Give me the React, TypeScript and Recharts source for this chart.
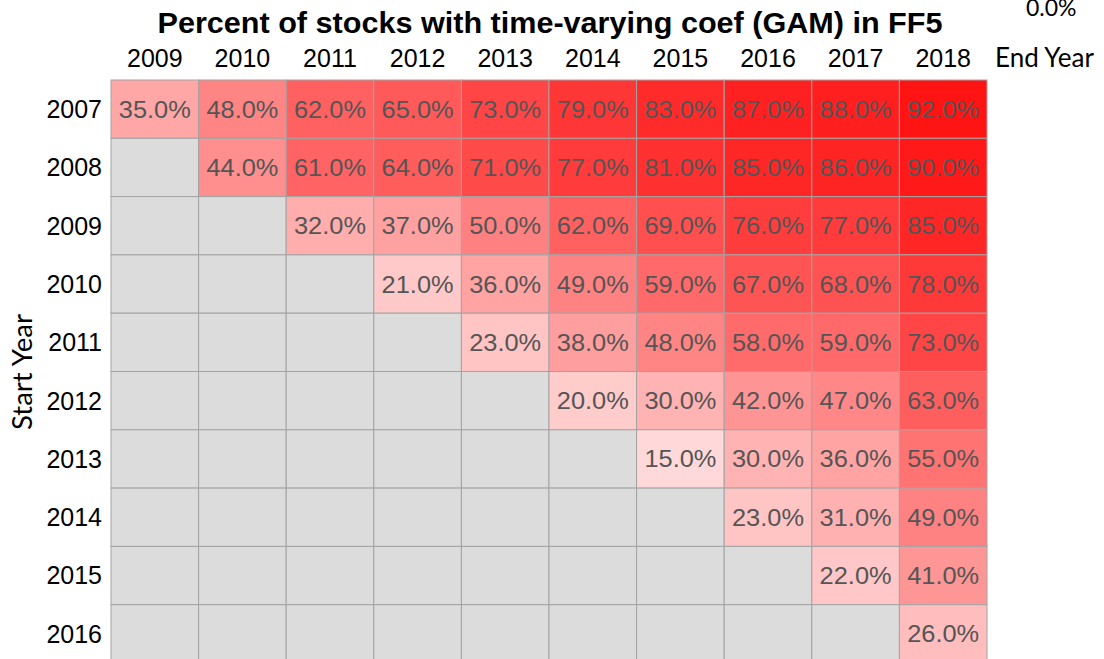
import { Scatter, ScatterChart, XAxis, YAxis } from "recharts";

const endYears = [2009, 2010, 2011, 2012, 2013, 2014, 2015, 2016, 2017, 2018];
const startYears = [2007, 2008, 2009, 2010, 2011, 2012, 2013, 2014, 2015, 2016];

// percent of stocks, one row per start year, columns are end years 2009..2018
const from2007 = [35, 48, 62, 65, 73, 79, 83, 87, 88, 92];
const from2008 = [null, 44, 61, 64, 71, 77, 81, 85, 86, 90];
const from2009 = [null, null, 32, 37, 50, 62, 69, 76, 77, 85];
const from2010 = [null, null, null, 21, 36, 49, 59, 67, 68, 78];
const from2011 = [null, null, null, null, 23, 38, 48, 58, 59, 73];
const from2012 = [null, null, null, null, null, 20, 30, 42, 47, 63];
const from2013 = [null, null, null, null, null, null, 15, 30, 36, 55];
const from2014 = [null, null, null, null, null, null, null, 23, 31, 49];
const from2015 = [null, null, null, null, null, null, null, null, 22, 41];
const from2016 = [null, null, null, null, null, null, null, null, null, 26];

const rows: (number | null)[][] = [
  from2007, from2008, from2009, from2010, from2011,
  from2012, from2013, from2014, from2015, from2016,
];

const cells = rows.flatMap((row, r) =>
  row.map((value, c) => ({ x: c + 0.5, y: r + 0.5, value }))
);

const ticks = endYears.map((_, i) => i + 0.5);

const CHART_W = 1104;
const CHART_H = 670;
const margin = { top: 36, right: 117, bottom: 7, left: 0 };
const X_AXIS_H = 44;
const Y_AXIS_W = 111;
const cellW = (CHART_W - margin.left - margin.right - Y_AXIS_W) / endYears.length;
const cellH = (CHART_H - margin.top - margin.bottom - X_AXIS_H) / startYears.length;

function cellColor(value: number | null) {
  if (value == null) return "#dcdcdc";
  const gb = Math.round(255 * (1 - value / 100));
  return `rgb(255, ${gb}, ${gb})`;
}

function HeatCell(props: any) {
  const { cx, cy, payload } = props;
  return (
    <g>
      <rect
        x={cx - cellW / 2}
        y={cy - cellH / 2}
        width={cellW}
        height={cellH}
        fill={cellColor(payload.value)}
        stroke="#a3a3a3"
        strokeWidth={1}
      />
      {payload.value != null && (
        <text
          x={cx}
          y={cy}
          textAnchor="middle"
          dominantBaseline="central"
          fontFamily="'Liberation Sans', Arial, sans-serif"
          fontSize={24}
          textLength={72}
          lengthAdjust="spacingAndGlyphs"
          fill="#555555"
        >
          {payload.value.toFixed(1)}%
        </text>
      )}
    </g>
  );
}

const tickStyle = {
  fontSize: 25,
  fill: "#000000",
  fontFamily: "'Liberation Sans', Arial, sans-serif",
};

export default function App() {
  return (
    <div
      style={{
        position: "absolute",
        left: 0,
        top: 0,
        width: 1104,
        height: 659,
        overflow: "hidden",
        background: "#ffffff",
      }}
    >
      <ScatterChart width={CHART_W} height={CHART_H} margin={margin}>
        <XAxis
          type="number"
          dataKey="x"
          orientation="top"
          domain={[0, 10]}
          ticks={ticks}
          height={X_AXIS_H}
          axisLine={false}
          tickLine={false}
          tickSize={0}
          tickMargin={13}
          interval={0}
          tick={tickStyle}
          tickFormatter={(v: number) => String(endYears[Math.floor(v)])}
        />
        <YAxis
          type="number"
          dataKey="y"
          domain={[0, 10]}
          reversed
          ticks={ticks}
          width={Y_AXIS_W}
          axisLine={false}
          tickLine={false}
          tickSize={0}
          tickMargin={9}
          interval={0}
          tick={tickStyle}
          tickFormatter={(v: number) => String(startYears[Math.floor(v)])}
        />
        <Scatter data={cells} shape={HeatCell} isAnimationActive={false} />
      </ScatterChart>
      <svg
        width={1104}
        height={659}
        style={{ position: "absolute", left: 0, top: 0, pointerEvents: "none" }}
      >
        <text
          x={550}
          y={33}
          textAnchor="middle"
          fontFamily="'Liberation Sans', Arial, sans-serif"
          fontWeight="bold"
          fontSize={29}
          textLength={785}
          lengthAdjust="spacingAndGlyphs"
          fill="#000000"
        >
          Percent of stocks with time-varying coef (GAM) in FF5
        </text>
        <text x={995} y={67} fontFamily="Lato, sans-serif" fontSize={26} fill="#000000">
          End Year
        </text>
        <text x={1026} y={16} fontFamily="Lato, sans-serif" fontSize={23} fill="#000000">
          0.0%
        </text>
        <text
          x={32}
          y={372}
          textAnchor="middle"
          transform="rotate(-90 32 372)"
          fontFamily="Lato, sans-serif"
          fontSize={27}
          textLength={116}
          lengthAdjust="spacingAndGlyphs"
          fill="#000000"
        >
          Start Year
        </text>
      </svg>
    </div>
  );
}
